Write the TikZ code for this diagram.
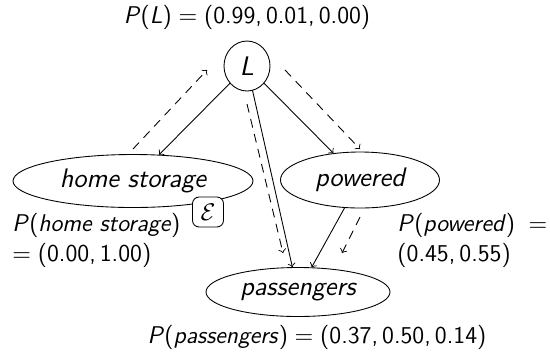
\documentclass[tikz,border=0pt]{standalone}
\usetikzlibrary{shapes.geometric}
% probability label: P(<name>) in sans italic
\newcommand\prob[1]{\textit{P}(\textit{#1})}
\begin{document}
\begin{tikzpicture}[x=0.4545pt,y=-0.4545pt,
  font=\fontsize{11}{13.6}\selectfont\sffamily,
  var/.style={draw, ellipse, inner sep=0pt,
    font=\fontsize{12.2}{14.5}\selectfont\sffamily\itshape},
  lnk/.style={->},
  msg/.style={->, dash pattern=on 4pt off 3pt},
  lbl/.style={inner sep=0pt}]
\useasboundingbox (0,0) rectangle (550,356);

% variables
\node[var, minimum width=46*0.4545pt, minimum height=50*0.4545pt] (L) at (247,66) {L};
\node[var, minimum width=240*0.4545pt, minimum height=53*0.4545pt] (hs) at (133,181) {home storage};
\node[var, minimum width=159*0.4545pt, minimum height=56*0.4545pt] (pw) at (360,180) {powered};
\node[var, minimum width=184*0.4545pt, minimum height=49*0.4545pt] (ps) at (298,292) {passengers};

% evidence marker
\node[draw, fill=white, rounded corners=3pt, inner sep=0pt,
  minimum width=31*0.4545pt, minimum height=30*0.4545pt] (ev) at (208,212) {$\mathcal{E}$};

% links
\draw[lnk] (L) -- (hs);
\draw[lnk] (L) -- (pw);
\draw[lnk] (L) -- (ps);
\draw[lnk] (pw) -- (ps);

% messages
\coordinate (m1a) at (133,149); \coordinate (m1b) at (207,70);
\coordinate (m2a) at (285,70);  \coordinate (m2b) at (360,149);
\coordinate (m3a) at (247,104); \coordinate (m3b) at (283,253);
\coordinate (m4a) at (360,217); \coordinate (m4b) at (342,253);
\draw[msg] (m1a) -- (m1b);
\draw[msg] (m2a) -- (m2b);
\draw[msg] (m3a) -- (m3b);
\draw[msg] (m4a) -- (m4b);

% marginals
\node[lbl, anchor=base] (pL) at (247,23) {\prob{L}\;$=$\;(0.99,\,0.01,\,0.00)};
\node[lbl, anchor=base west] (phs1) at (12,231) {\prob{home storage}};
\node[lbl, anchor=base west] (phs2) at (12,261) {$=$\;(0.00,\,1.00)};
\node[lbl, anchor=base west] (ppw1) at (397,231) {\prob{powered}\;\;$=$};
\node[lbl, anchor=base west] (ppw2) at (397,261) {(0.45,\,0.55)};
\node[lbl, anchor=base] (pps) at (317,343) {\prob{passengers}\;$=$\;(0.37,\,0.50,\,0.14)};
\end{tikzpicture}
\end{document}
